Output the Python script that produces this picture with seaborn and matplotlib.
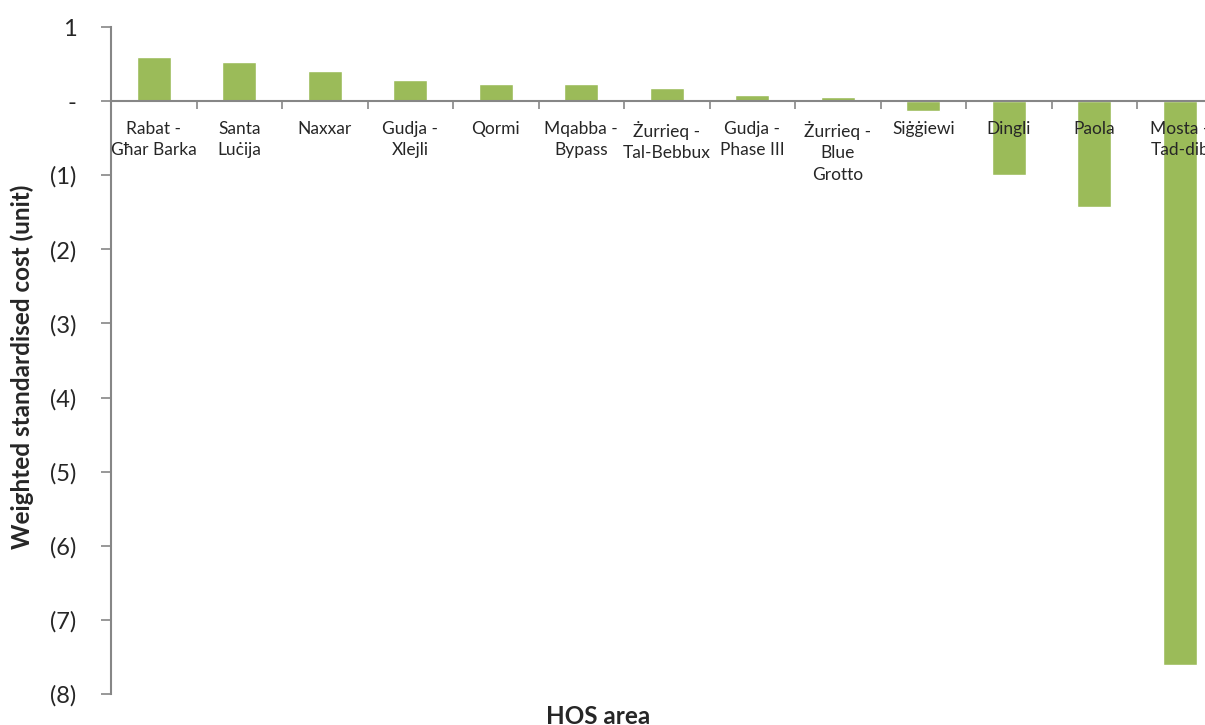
import matplotlib
matplotlib.use("Agg")
import matplotlib.pyplot as plt
import seaborn as sns
import pandas as pd
import numpy as np
from matplotlib.ticker import FixedLocator, FuncFormatter

categories = ["Rabat -\nGħar Barka", "Santa\nLuċija", "Naxxar", "Gudja -\nXlejli", "Qormi",
              "Mqabba -\nBypass", "Żurrieq -\nTal-Bebbux", "Gudja -\nPhase III",
              "Żurrieq -\nBlue\nGrotto", "Siġġiewi", "Dingli", "Paola", "Mosta -\nTad-dib"]
values = [0.59, 0.53, 0.40, 0.28, 0.23, 0.225, 0.18, 0.077, 0.05, -0.13, -1.0, -1.43, -7.61]
yticks = [1, 0, -1, -2, -3, -4, -5, -6, -7, -8]

sns.set_theme(style="white")
plt.rcParams['font.family'] = ['Lato', 'DejaVu Sans']

df = pd.DataFrame({"area": categories, "cost": values})

fig = plt.figure(figsize=(12.05, 7.25), dpi=100)
ax = fig.add_axes([111/1205, 31/725, 1111.5/1205, 667/725])
sns.barplot(data=df, x="area", y="cost", color="#9BBB59", saturation=1, width=0.4, ax=ax, zorder=1)
ax.set_axisbelow(False)

ax.set_ylim(-8, 1)
ax.set_xlim(-0.5, len(categories) - 0.5)

def fmt(v, pos):
    v = int(round(v))
    if v == 0:
        return "-"
    if v < 0:
        return f"({-v})"
    return f"{v}"

ax.yaxis.set_major_locator(FixedLocator(yticks))
ax.yaxis.set_major_formatter(FuncFormatter(fmt))
ax.tick_params(axis='y', which='major', direction='out', length=7, width=1.2, color='#868686',
               labelsize=17, pad=18, left=True)

ax.spines['top'].set_visible(False)
ax.spines['right'].set_visible(False)
for s in ['left', 'bottom']:
    ax.spines[s].set_color('#868686')
    ax.spines[s].set_linewidth(1.5)
ax.spines['bottom'].set_position(('data', 0))
ax.spines['bottom'].set_zorder(3)

n = len(categories)
ax.xaxis.set_major_locator(FixedLocator(np.arange(n) + 0.5))
ax.xaxis.set_major_formatter(FuncFormatter(lambda v, p: ""))
ax.set_xticks(np.arange(n), minor=True)
ax.set_xticklabels(categories, minor=True, fontsize=12.5, linespacing=1.45)
ax.tick_params(axis='x', which='major', direction='out', length=6, width=1.2, color='#868686', bottom=True)
ax.tick_params(axis='x', which='minor', length=0, pad=14, bottom=True)
ax.xaxis.set_zorder(5)

ax.set_xlabel("")
ax.set_ylabel("")
fig.text(22/1205, 1 - 367/725, "Weighted standardised cost (unit)", rotation=90,
         ha='center', va='center', fontsize=17.5, fontweight='bold')
fig.text(598/1205, 1 - 716/725, "HOS area", ha='center', va='center', fontsize=17.5, fontweight='bold')

fig.savefig("out.png", dpi=100)
